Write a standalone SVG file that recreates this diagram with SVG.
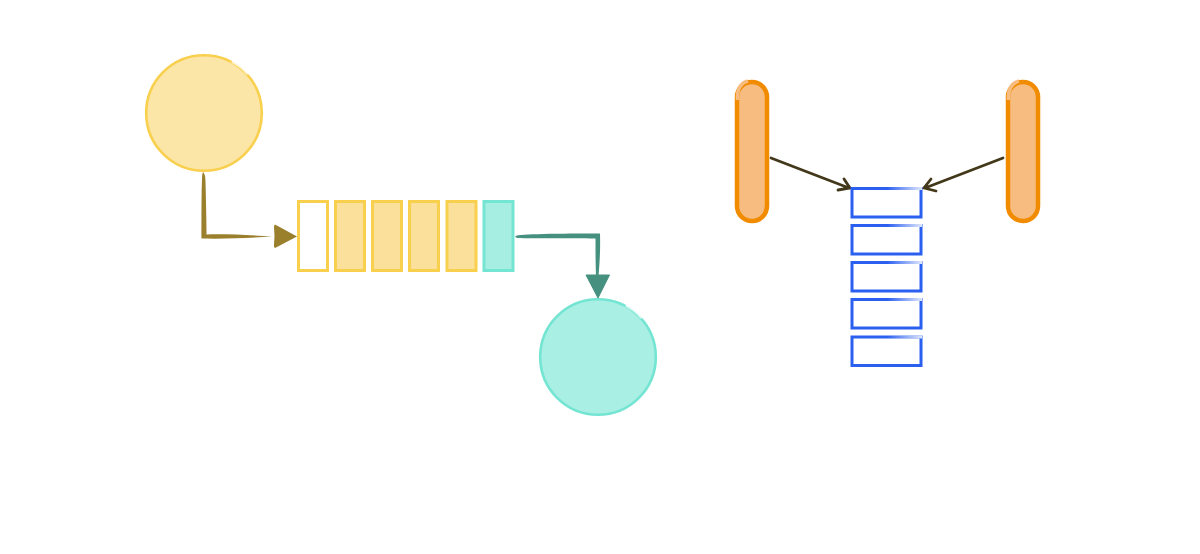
<svg xmlns="http://www.w3.org/2000/svg" width="1200" height="554" viewBox="0 0 1200 554">
<defs>
<linearGradient id="fade"><stop offset="0.5" stop-color="#fff" stop-opacity="0"/><stop offset="1" stop-color="#fff" stop-opacity="0.85"/></linearGradient>
<path id="topfade" d="M0 0H70V3H0Z" fill="url(#fade)"/>
</defs>
<style>
.yc{fill:#fbe6a8;stroke:#f9d04d;stroke-width:2.6}
.cell{fill:#fae09a;stroke:#f9d04d;stroke-width:3}
.empty{fill:#fff;stroke:#f9d04d;stroke-width:3}
.teal{fill:#a7eee2;stroke:#74e5d2;stroke-width:3}
.tc{fill:#a9efe3;stroke:#74e5d2;stroke-width:2.6}
.pill{fill:#f7bc7f;stroke:#f18b00;stroke-width:4.500}
.box{fill:#fff;stroke:#2a5ff0;stroke-width:3}
.ar{fill:none;stroke:#43391a;stroke-width:2.800;stroke-linecap:round}
.nick{fill:none;stroke:#fff;stroke-width:3;stroke-linecap:round;opacity:.75}
</style>
<rect width="1200" height="554" fill="#fff"/>
<g id="connectors">
<path d="M203 172Q205.500 174 205.500 182C206 200 206.500 220 206.500 234.500C225 234 250 235 272 236.500C250 238 225 239 201.500 238.500C201.500 215 201.500 190 202 180Q202 174 203 172Z" fill="#9a7f2c"/>
<path d="M275 224.500L297 236.500L275 248Q273.500 247 274 245Q275 236 274 227Q274 225 275 224.500Z" fill="#9a7f2c"/>
<path d="M515.500 236C518 234 560 233.500 600 233.500C600.500 250 599.500 265 598.500 276L596 276C595.500 262 595.500 250 595.500 238.500C570 238 530 238.500 518 238C516 238 515 237 515.500 236Z" fill="#46907f"/>
<path d="M586 275L609.500 275L598 298Z" fill="#46907f" stroke="#46907f" stroke-width="1" stroke-linejoin="round"/>
<path class="ar" d="M771 158L849 188M838 190L850 188L844 179"/>
<path class="ar" d="M1003 158L925 188M936 191L924 188L931 179"/>
</g>
<g id="producer"><circle class="yc" cx="204" cy="113" r="57.800"/><path class="nick" d="M233 62Q241 66 247 73"/></g>
<g id="consumer"><circle class="tc" cx="598" cy="357" r="57.800"/><path class="nick" d="M627 306Q635 310 641 317"/></g>
<g id="queue">
<rect class="empty" x="298.500" y="201.500" width="29" height="69"/>
<rect class="cell" x="335.500" y="201.500" width="29" height="69"/>
<rect class="cell" x="372.500" y="201.500" width="29" height="69"/>
<rect class="cell" x="409.500" y="201.500" width="29" height="69"/>
<rect class="cell" x="447" y="201.500" width="29" height="69"/>
<rect class="teal" x="484" y="201.500" width="29" height="69"/>
</g>
<g id="left-pill"><rect class="pill" x="737" y="82" width="30" height="139" rx="15"/><path d="M737.500 100Q736.500 84 748 81" fill="none" stroke="#f7bc7f" stroke-width="3.500"/></g>
<g id="right-pill"><rect class="pill" x="1008" y="82" width="30" height="139" rx="15"/><path d="M1008.500 100Q1007.500 84 1019 81" fill="none" stroke="#f7bc7f" stroke-width="3.500"/></g>
<g id="stack">
<rect class="box" x="852" y="188.500" width="69" height="28.500"/><use href="#topfade" x="852" y="187"/>
<rect class="box" x="852" y="225.500" width="69" height="28.500"/><use href="#topfade" x="852" y="224"/>
<rect class="box" x="852" y="262.500" width="69" height="28.500"/><use href="#topfade" x="852" y="261"/>
<rect class="box" x="852" y="299.500" width="69" height="28.500"/><use href="#topfade" x="852" y="298"/>
<rect class="box" x="852" y="337" width="69" height="28.500"/><use href="#topfade" x="852" y="335.500"/>
</g>
</svg>
